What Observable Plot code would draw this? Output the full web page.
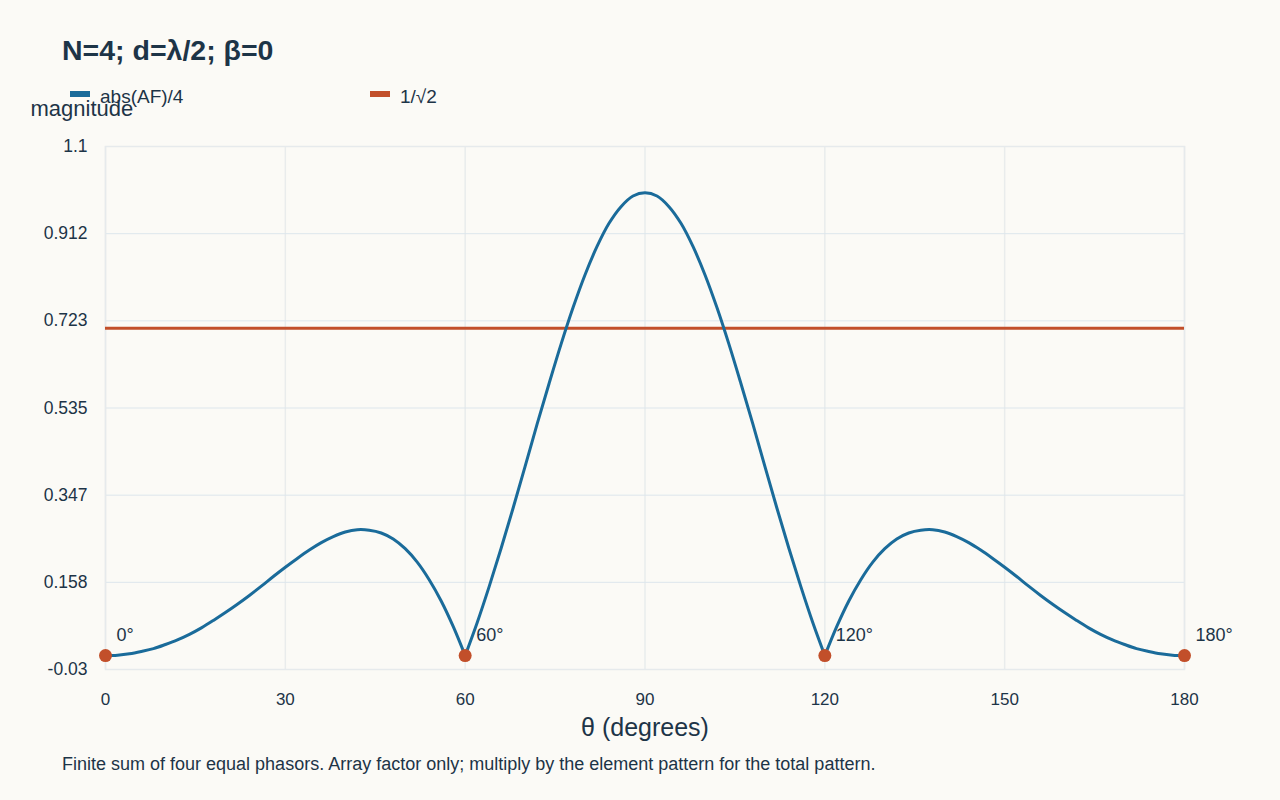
<!DOCTYPE html>
<html>
<head>
<meta charset="utf-8">
<script src="https://cdn.jsdelivr.net/npm/d3@7"></script>
<script src="https://cdn.jsdelivr.net/npm/@observablehq/plot@0.6"></script>
<style>
  html, body { margin: 0; padding: 0; background: #fbfaf6; }
  body { width: 1280px; height: 800px; position: relative; font-family: "Liberation Sans", Arial, sans-serif; color: #1d3447; overflow: hidden; }
  #title { position: absolute; left: 62px; top: 34px; font-size: 28.5px; font-weight: bold; color: #1d3447; white-space: nowrap; }
  .leg { position: absolute; top: 86px; height: 24px; font-size: 19px; color: #1d3447; }
  .sw { position: absolute; top: 5px; width: 20px; height: 6px; }
  .lt { position: absolute; left: 30px; top: 0; white-space: nowrap; }
  #chart { position: absolute; left: 0; top: 80px; }
  #caption { position: absolute; left: 62px; top: 754px; font-size: 18px; color: #1d3447; white-space: nowrap; }
</style>
</head>
<body>
<div id="title">N=4; d=λ/2; β=0</div>
<div id="chart"></div>
<div class="leg" style="left:70px"><span class="sw" style="left:0;background:#1a6b9a"></span><span class="lt">abs(AF)/4</span></div>
<div class="leg" style="left:370px"><span class="sw" style="left:0;background:#c24f2a"></span><span class="lt">1/√2</span></div>
<div id="caption">Finite sum of four equal phasors. Array factor only; multiply by the element pattern for the total pattern.</div>
<script>
// θ in degrees (every 2°)
const theta = [0,2,4,6,8,10,12,14,16,18,20,22,24,26,28,30,32,34,36,38,40,42,44,46,48,50,52,54,56,58,60,
  62,64,66,68,70,72,74,76,78,80,82,84,86,88,90,
  92,94,96,98,100,102,104,106,108,110,112,114,116,118,120,
  122,124,126,128,130,132,134,136,138,140,142,144,146,148,150,
  152,154,156,158,160,162,164,166,168,170,172,174,176,178,180];
// |AF|/4
const magnitude = [0,0.001,0.004,0.009,0.015,0.024,0.034,0.046,0.060,0.076,0.093,0.111,0.130,0.150,0.171,0.191,0.210,0.228,0.244,0.257,0.267,0.272,0.271,0.265,0.252,0.231,0.202,0.164,0.118,0.063,0,
  0.071,0.149,0.232,0.319,0.409,0.500,0.588,0.673,0.752,0.823,0.884,0.934,0.970,0.993,1.0,
  0.993,0.970,0.934,0.884,0.823,0.752,0.673,0.588,0.500,0.409,0.319,0.232,0.149,0.071,0,
  0.063,0.118,0.164,0.202,0.231,0.252,0.265,0.271,0.272,0.267,0.257,0.244,0.228,0.210,0.191,
  0.171,0.150,0.130,0.111,0.093,0.076,0.060,0.046,0.034,0.024,0.015,0.009,0.004,0.001,0];
const threshold = 0.7071;
const nullAngles = [0, 60, 120, 180];
const nullLabels = ["0°", "60°", "120°", "180°"];
const xTicks = [0, 30, 60, 90, 120, 150, 180];
const yTicks = [-0.03, 0.15833, 0.34667, 0.535, 0.72333, 0.91167, 1.1];
const yTickLabels = ["-0.03", "0.158", "0.347", "0.535", "0.723", "0.912", "1.1"];

// split the curve into lobes between nulls (null points shared) so cusps stay sharp
const curve = [];
theta.forEach((t, i) => {
  for (let s = 0; s < nullAngles.length - 1; s++) {
    if (t >= nullAngles[s] && t <= nullAngles[s + 1]) curve.push({theta: t, mag: magnitude[i], lobe: s});
  }
});
const nulls = nullAngles.map((t, i) => ({theta: t, mag: 0, label: nullLabels[i]}));

const plot = Plot.plot({
  width: 1280,
  height: 665,
  marginLeft: 105,
  marginRight: 96,
  marginTop: 66,
  marginBottom: 76,
  style: {background: "transparent", fontFamily: "Liberation Sans, Arial, sans-serif", fontSize: "18px", color: "#1d3447"},
  x: {domain: [0, 180]},
  y: {domain: [-0.03, 1.1]},
  marks: [
    Plot.ruleX(xTicks, {stroke: "#e9ecec", strokeWidth: 1.5}),
    Plot.ruleY(yTicks, {stroke: "#dde6ec", strokeWidth: 1}),
    Plot.frame({stroke: "#e6eaec", strokeWidth: 1.5}),
    Plot.axisX({ticks: xTicks, tickSize: 0, tickPadding: 23, label: null, fontSize: 17, tickFormat: d => String(d)}),
    Plot.axisY({ticks: yTicks, tickSize: 0, tickPadding: 18, label: null, fontSize: 17.5, tickFormat: (d, i) => yTickLabels[i]}),
    Plot.ruleY([threshold], {stroke: "#c24f2a", strokeWidth: 3}),
    Plot.line(curve, {x: "theta", y: "mag", z: "lobe", stroke: "#1a6b9a", strokeWidth: 3, curve: "catmull-rom"}),
    Plot.dot(nulls, {x: "theta", y: "mag", r: 6.5, fill: "#c24f2a", stroke: "none"}),
    Plot.text(nulls, {x: "theta", y: "mag", text: "label", dx: 11, dy: -20, textAnchor: "start", fontSize: 18, fill: "#1d3447"}),
    Plot.text(["magnitude"], {frameAnchor: "top-left", dx: -75, dy: -46, textAnchor: "start", fontSize: 22, fill: "#1d3447"}),
    Plot.text(["θ (degrees)"], {frameAnchor: "bottom", dy: 66, fontSize: 25, fill: "#1d3447"})
  ]
});
document.getElementById("chart").appendChild(plot);
</script>
</body>
</html>
